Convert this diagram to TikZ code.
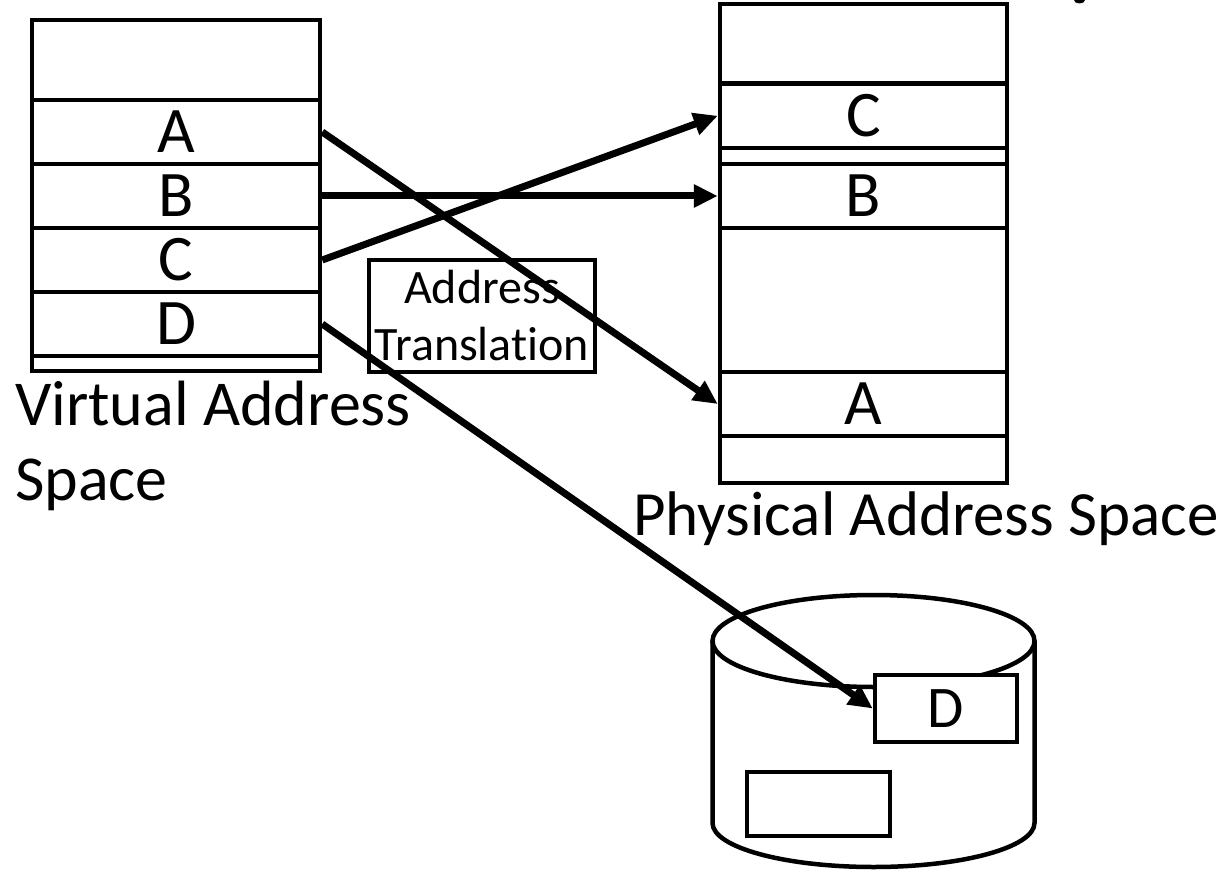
\documentclass[tikz,border=0pt]{standalone}
\usepackage{fontspec}
\setmainfont{Carlito}[Ligatures=NoCommon]
\usetikzlibrary{arrows.meta}
\begin{document}
\begin{tikzpicture}[x=1pt,y=-1pt,
  vcell/.style={draw, line width=4.5pt, inner sep=0pt, minimum width=288pt, font=\fontsize{65}{78}\selectfont},
  pcell/.style={draw, line width=4.5pt, inner sep=0pt, minimum width=287pt, font=\fontsize{65}{78}\selectfont},
  plain/.style={draw, line width=4.5pt, inner sep=0pt, fill=white},
  arr/.style={line width=7pt, -{Triangle[length=24pt,width=22pt]}},
  biglabel/.style={inner sep=0pt}]
\useasboundingbox (0,0) rectangle (1228,874);
\fill[white] (0,0) rectangle (1228,874);
% fragment of a cut-off title at the top edge
\fill (1079.5,0) ellipse[x radius=5.5, y radius=3.5];
% virtual address space
\node[vcell, minimum height=80pt] (vTop) at (176,60) {};
\node[vcell, minimum height=64pt] (vA) at (176,132) {A};
\node[vcell, minimum height=64pt] (vB) at (176,196) {B};
\node[vcell, minimum height=64pt] (vC) at (176,260) {C};
\node[vcell, minimum height=64pt] (vD) at (176,324) {D};
\node[vcell, minimum height=15pt] (vBot) at (176,363.5) {};
\node[biglabel, anchor=base west, font=\fontsize{64}{77}\selectfont] (vlab1) at (15,425) {Virtual Address};
\node[biglabel, anchor=base west, font=\fontsize{64}{77}\selectfont] (vlab2) at (15,500) {Space};
% physical address space
\node[pcell, minimum height=79.5pt] (pTop) at (863.5,43.75) {};
\node[pcell, minimum height=64.5pt] (pC) at (863.5,115.75) {C};
\node[pcell, minimum height=16pt] (pGap) at (863.5,156) {};
\node[pcell, minimum height=64pt] (pB) at (863.5,196) {B};
\node[pcell, minimum height=144pt] (pMid) at (863.5,300) {};
\node[pcell, minimum height=64pt] (pA) at (863.5,404) {A};
\node[pcell, minimum height=47pt] (pBot) at (863.5,459.5) {};
\node[biglabel, anchor=base west, font=\fontsize{63}{76}\selectfont] (plab) at (633,535) {Physical Address Space};
% address translation box
\node[plain, minimum width=226pt, minimum height=112pt, align=center,
      font=\fontsize{48}{57}\selectfont] (trans) at (482,316) {Address\\Translation};
% disk
\draw[line width=4.5pt] (873.5,641) ellipse[x radius=161, y radius=46];
\draw[line width=4.5pt] (712.5,641) -- (712.5,823)
  arc[start angle=180, end angle=0, x radius=161, y radius=44] -- (1034.5,641);
\node[plain, minimum width=142pt, minimum height=67pt, font=\fontsize{59}{70}\selectfont] (dD) at (946,708.5) {D};
\node[plain, minimum width=143pt, minimum height=64pt] (dE) at (818.5,804) {};
% mappings
\draw[arr] (vA.east) -- (pA.west);
\draw[arr] (vB.east) -- (pB.west);
\draw[arr] (vC.east) -- (pC.west);
\draw[arr] (vD.east) -- (dD.west);
\end{tikzpicture}
\end{document}
